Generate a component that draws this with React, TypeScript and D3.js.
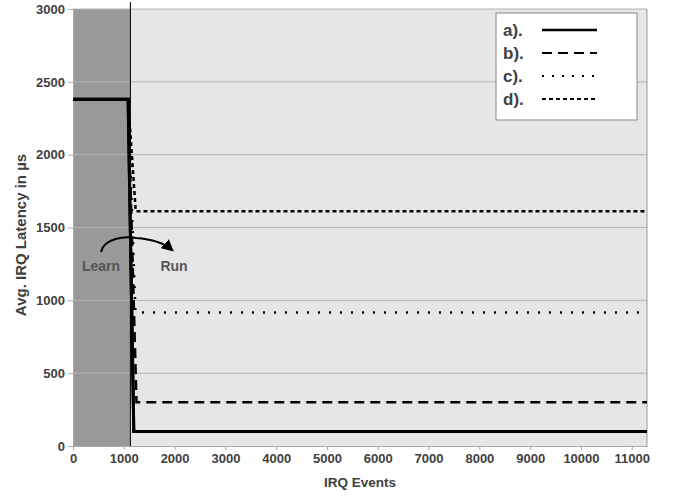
import React, { useEffect, useRef } from 'react';
import * as d3 from 'd3';

const seriesNames = ['a).', 'b).', 'c).', 'd).'];
const seriesDash = ['', '10,6', '2,9', '4,3'];
const seriesEvents = [
  [0, 1085, 1197, 11300],
  [0, 1085, 1250, 11300],
  [0, 1085, 1230, 11300],
  [0, 1085, 1235, 11300],
];
const seriesLatency = [
  [2380, 2380, 100, 100],
  [2380, 2380, 300, 300],
  [2380, 2380, 916, 916],
  [2380, 2380, 1612, 1612],
];
const xTicks = [0, 1000, 2000, 3000, 4000, 5000, 6000, 7000, 8000, 9000, 10000, 11000];
const yTicks = [0, 500, 1000, 1500, 2000, 2500, 3000];
const learnEnd = 1130;

const App = () => {
  const ref = useRef<SVGSVGElement>(null);

  useEffect(() => {
    const width = 675;
    const height = 499;
    const margin = { top: 9, right: 28, bottom: 53, left: 73 };
    const svg = d3.select(ref.current);
    svg.selectAll('*').remove();

    const x = d3.scaleLinear().domain([0, 11300]).range([margin.left, width - margin.right]);
    const y = d3.scaleLinear().domain([0, 3000]).range([height - margin.bottom, margin.top]);
    const font = "'Liberation Sans', Arial, sans-serif";
    const textColor = '#404040';

    // plot background
    svg.append('rect')
      .attr('x', x(0)).attr('y', y(3000))
      .attr('width', x(11300) - x(0)).attr('height', y(0) - y(3000))
      .attr('fill', '#e6e6e6');
    svg.append('rect')
      .attr('x', x(0)).attr('y', y(3000))
      .attr('width', x(learnEnd) - x(0)).attr('height', y(0) - y(3000))
      .attr('fill', '#999999');

    // grid
    svg.append('g')
      .selectAll('line')
      .data(yTicks.filter((d) => d > 0))
      .join('line')
      .attr('x1', x(0)).attr('x2', x(11300))
      .attr('y1', (d) => y(d)).attr('y2', (d) => y(d))
      .attr('stroke', '#b3b3b3').attr('stroke-width', 1);

    // right border
    svg.append('line')
      .attr('x1', x(11300)).attr('x2', x(11300))
      .attr('y1', y(3000)).attr('y2', y(0))
      .attr('stroke', '#999').attr('stroke-width', 1);

    // axes
    const xAxis = d3.axisBottom(x).tickValues(xTicks).tickFormat(d3.format('d'))
      .tickSize(4).tickSizeOuter(0).tickPadding(4);
    const gx = svg.append('g').attr('transform', `translate(0,${y(0)})`).call(xAxis);
    const yAxis = d3.axisLeft(y).tickValues(yTicks).tickFormat(d3.format('d'))
      .tickSize(5).tickSizeOuter(0).tickPadding(3);
    const gy = svg.append('g').attr('transform', `translate(${x(0)},0)`).call(yAxis);
    [gx, gy].forEach((g) => {
      g.selectAll('.domain').attr('stroke', '#aaa');
      g.selectAll('.tick line').attr('stroke', '#aaa');
      g.selectAll('text')
        .attr('font-family', font).attr('font-size', 13).attr('font-weight', 'bold')
        .attr('fill', textColor);
    });

    // learn/run boundary
    svg.append('line')
      .attr('x1', x(learnEnd)).attr('x2', x(learnEnd))
      .attr('y1', 2).attr('y2', y(0))
      .attr('stroke', '#000').attr('stroke-width', 1);

    // series
    const line = d3.line<[number, number]>().x((d) => x(d[0])).y((d) => y(d[1]));
    seriesNames.forEach((name, i) => {
      const pts = seriesEvents[i].map((e, j) => [e, seriesLatency[i][j]] as [number, number]);
      svg.append('path')
        .attr('d', line(pts))
        .attr('fill', 'none')
        .attr('stroke', '#000')
        .attr('stroke-width', i === 0 ? 3 : 2.5)
        .attr('stroke-dasharray', seriesDash[i] || null);
    });
    // redraw solid on top
    svg.append('path')
      .attr('d', line(seriesEvents[0].map((e, j) => [e, seriesLatency[0][j]] as [number, number])))
      .attr('fill', 'none').attr('stroke', '#000').attr('stroke-width', 3);

    // legend
    const lg = svg.append('g').attr('transform', 'translate(496,13)');
    lg.append('rect').attr('width', 141).attr('height', 107)
      .attr('fill', '#fff').attr('stroke', '#888').attr('stroke-width', 1);
    seriesNames.forEach((name, i) => {
      const yy = 17 + i * 23;
      lg.append('text').attr('x', 7).attr('y', yy + 6)
        .attr('font-family', font).attr('font-size', 17).attr('font-weight', 'bold')
        .attr('fill', textColor).text(name);
      lg.append('line').attr('x1', 46).attr('x2', 101).attr('y1', yy).attr('y2', yy)
        .attr('stroke', '#000').attr('stroke-width', i === 0 ? 2.5 : 2)
        .attr('stroke-dasharray', seriesDash[i] === '2,9' ? '2,8' : seriesDash[i] || null);
    });

    // annotation
    svg.append('text').attr('x', 101).attr('y', 271).attr('text-anchor', 'middle')
      .attr('font-family', font).attr('font-size', 14).attr('font-weight', 'bold')
      .attr('fill', '#555').text('Learn');
    svg.append('text').attr('x', 174).attr('y', 271).attr('text-anchor', 'middle')
      .attr('font-family', font).attr('font-size', 14).attr('font-weight', 'bold')
      .attr('fill', '#555').text('Run');
    const defs = svg.append('defs');
    defs.append('marker').attr('id', 'arr').attr('viewBox', '0 0 10 10')
      .attr('refX', 8).attr('refY', 5).attr('markerWidth', 6).attr('markerHeight', 6)
      .attr('orient', 'auto')
      .append('path').attr('d', 'M0,0 L10,5 L0,10 z').attr('fill', '#000');
    svg.append('path')
      .attr('d', 'M101,252 C104,238 125,236 136,238 C150,239 163,242 172,250')
      .attr('fill', 'none').attr('stroke', '#000').attr('stroke-width', 2)
      .attr('marker-end', 'url(#arr)');

    // axis titles
    svg.append('text').attr('x', (x(0) + x(11300)) / 2).attr('y', 487).attr('text-anchor', 'middle')
      .attr('font-family', font).attr('font-size', 13.5).attr('font-weight', 'bold')
      .attr('fill', textColor).text('IRQ Events');
    svg.append('text').attr('transform', `translate(26,235) rotate(-90)`)
      .attr('text-anchor', 'middle')
      .attr('font-family', font).attr('font-size', 15).attr('font-weight', 'bold')
      .attr('fill', textColor).text('Avg. IRQ Latency in µs');
  }, []);

  return (
    <svg ref={ref} width={675} height={499}
      style={{ position: 'absolute', left: 0, top: 0, background: '#fff' }} />
  );
};

export default App;
